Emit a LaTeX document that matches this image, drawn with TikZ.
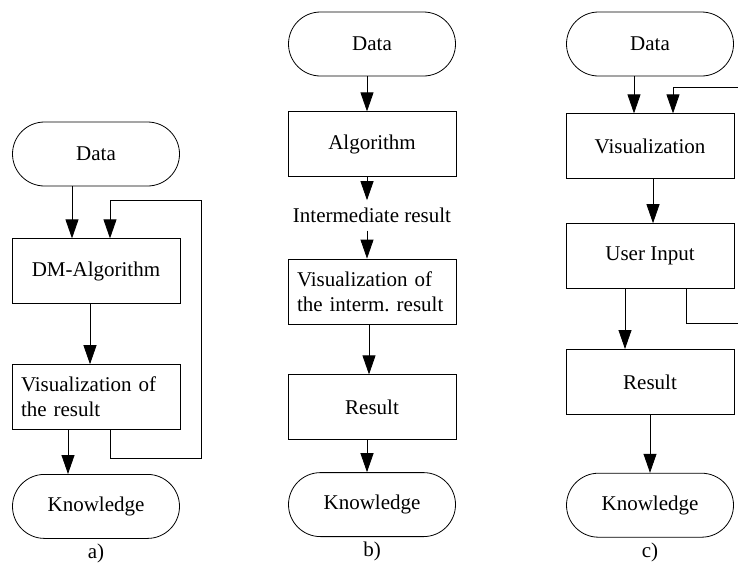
\documentclass[tikz,border=0pt]{standalone}
\usepackage{fontspec}
\setmainfont{Liberation Serif}
\usetikzlibrary{positioning, arrows.meta, shapes.misc}

\begin{document}
\begin{tikzpicture}[
    x=1pt, y=1pt,
    font=\fontsize{21}{25}\selectfont,
    procbox/.style={draw, line width=0.8pt, minimum width=168pt, minimum height=65pt, inner sep=0pt},
    multibox/.style={procbox, text width=150pt, align=left, inner xsep=9pt},
    termbox/.style={draw, rounded rectangle, line width=0.8pt, minimum width=167pt, minimum height=64pt, inner sep=0pt},
    labelstyle/.style={inner sep=0pt},
    flowarrow/.style={line width=0.8pt, -{Triangle[length=19pt, width=13pt]}},
    loopline/.style={line width=0.8pt}
]
\useasboundingbox (0,0) rectangle (738,-563);

% a) data mining algorithm with visualized result
\node (a_data) [termbox] at (96,-154) {Data};
\node (a_alg) [procbox, below=52pt of a_data] {DM-Algorithm};
\node (a_vis) [multibox, below=60pt of a_alg] {Visualization of\\the result};
\node (a_know) [termbox, below=44pt of a_vis] {Knowledge};
\node (a_lbl) [labelstyle, below=5pt of a_know] {a)};

\draw[flowarrow] ([xshift=-24pt]a_data.south) -- ([xshift=-24pt]a_alg.north);
\draw[flowarrow] ([xshift=-6pt]a_alg.south) -- ([xshift=-6pt]a_vis.north);
\draw[flowarrow] ([xshift=-28pt]a_vis.south) -- ([xshift=-28pt]a_know.north);
% feedback loop back into the algorithm
\draw[flowarrow] ([xshift=14pt]a_vis.south) -- ++(0,-28) -- ++(91,0) -- ++(0,258) -- ++(-91,0) -- ([xshift=14pt]a_alg.north);

% b) visualization of an intermediate result
\node (b_data) [termbox] at (372,-44) {Data};
\node (b_alg) [procbox, below=35pt of b_data] {Algorithm};
\node (b_mid) [labelstyle, minimum height=30pt, below=23pt of b_alg] {Intermediate result};
\node (b_vis) [multibox, below=28pt of b_mid] {Visualization of\\the interm.\ result};
\node (b_res) [procbox, below=50pt of b_vis] {Result};
\node (b_know) [termbox, below=32pt of b_res] {Knowledge};
\node (b_lbl) [labelstyle, below=5pt of b_know] {b)};

\draw[flowarrow] ([xshift=-5pt]b_data.south) -- ([xshift=-5pt]b_alg.north);
\draw[flowarrow] ([xshift=-5pt]b_alg.south) -- ([xshift=-5pt]b_mid.north);
\draw[flowarrow] ([xshift=-5pt]b_mid.south) -- ([xshift=-5pt]b_vis.north);
\draw[flowarrow] ([xshift=-3pt]b_vis.south) -- ([xshift=-3pt]b_res.north);
\draw[flowarrow] ([xshift=-5pt]b_res.south) -- ([xshift=-5pt]b_know.north);

% c) interactive visualization with user input
\node (c_data) [termbox] at (650,-44) {Data};
\node (c_vis) [procbox, below=37pt of c_data] {Visualization};
\node (c_inp) [procbox, below=44pt of c_vis] {User Input};
\node (c_res) [procbox, below=60pt of c_inp] {Result};
\node (c_know) [termbox, below=58pt of c_res] {Knowledge};
\node (c_lbl) [labelstyle, below=5pt of c_know] {c)};

\draw[flowarrow] ([xshift=-16pt]c_data.south) -- ([xshift=-16pt]c_vis.north);
\draw[flowarrow] ([xshift=3pt]c_vis.south) -- ([xshift=3pt]c_inp.north);
\draw[flowarrow] ([xshift=-25pt]c_inp.south) -- ([xshift=-25pt]c_res.north);
\draw[flowarrow] (c_res.south) -- (c_know.north);
% loop runs off the right edge
\coordinate (c_back_in) at (738,-87);
\coordinate (c_back_out) at (738,-323);
\draw[flowarrow] (c_back_in) -| ([xshift=23pt]c_vis.north);
\draw[loopline] ([xshift=36pt]c_inp.south) |- (c_back_out);

\end{tikzpicture}
\end{document}
